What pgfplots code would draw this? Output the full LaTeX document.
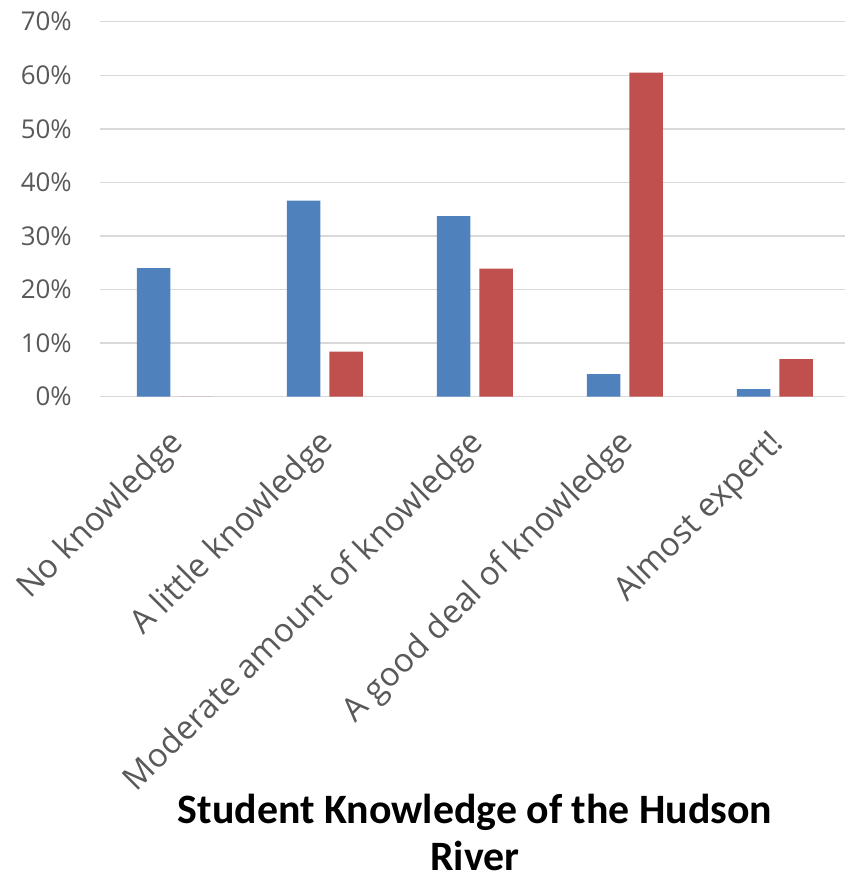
\documentclass[border=0pt]{standalone}
\usepackage{pgfplots}
\pgfplotsset{compat=1.18}
\usepackage{fontspec}
\setmainfont{Carlito}
\newfontfamily\labelfont{Open Sans}
\definecolor{xblue}{HTML}{4F81BD}
\definecolor{xred}{HTML}{C0504D}
\definecolor{xgrid}{HTML}{D9D9D9}
\definecolor{xtext}{HTML}{595959}
\begin{document}
\begin{tikzpicture}
\path[use as bounding box] (0,0) rectangle (845bp,880bp);
\begin{axis}[
  at={(100bp,483.3bp)}, anchor=south west,
  scale only axis, width=745bp, height=375bp,
  xmin=-0.5, xmax=4.467, ymin=0, ymax=70,
  ybar, bar width=33.5bp,
  axis line style={draw=none},
  major tick length=0pt,
  ymajorgrids, grid style={xgrid, line width=1.5bp},
  ytick={0,10,...,70},
  yticklabel={\pgfmathprintnumber{\tick}\%},
  /pgf/number format/assume math mode=true,
  yticklabel style={font=\labelfont\fontsize{26}{26}\selectfont, text=xtext, inner sep=0pt, xshift=-28bp},
  xtick={0,1,2,3,4},
  xticklabels={No knowledge, A little knowledge, Moderate amount of knowledge, A good deal of knowledge, Almost expert!},
  xticklabel style={xshift=4bp, yshift=-42bp, rotate=45, anchor=east, inner sep=0pt, font=\labelfont\fontsize{33}{33}\selectfont, text=xtext},
  clip=false,
]
\addplot[fill=xblue, draw=none, bar shift=-21.25bp] coordinates {(0,24.0) (1,36.6) (2,33.7) (3,4.2) (4,1.4)};
\addplot[fill=xred, draw=none, bar shift=21.25bp] coordinates {(0,0) (1,8.4) (2,23.9) (3,60.5) (4,7.0)};
\end{axis}
\node[font=\bfseries\fontsize{42}{47}\selectfont, anchor=base] at (475bp,56bp) {Student Knowledge of the Hudson};
\node[font=\bfseries\fontsize{42}{47}\selectfont, anchor=base] at (475bp,10bp) {River};
\end{tikzpicture}
\end{document}
